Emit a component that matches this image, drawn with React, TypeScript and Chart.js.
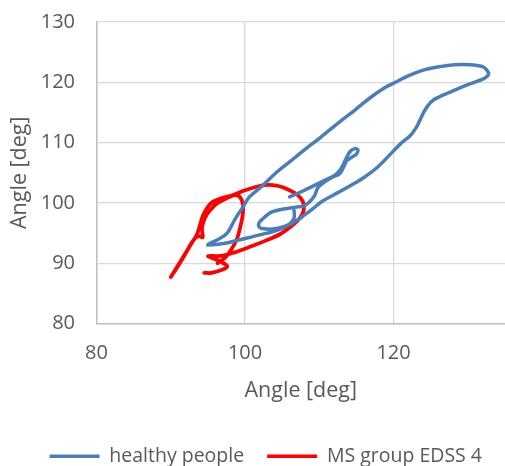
import { useEffect, useRef } from 'react';
import { Chart, registerables } from 'chart.js';

Chart.register(...registerables);

// Angle–angle cycle of healthy people (deg)
const healthyX = [
  106.0, 108.0, 110.3, 112.1, 112.7, 113.2, 113.7, 114.2, 114.8, 115.2, 115.0, 114.4, 113.7, 113.3, 112.7,
  111.8, 110.5, 109.8, 109.4, 108.7, 107.9,
  106.8, 105.2, 103.6, 102.5, 101.9, 101.9, 102.5, 104.0, 105.8, 107.1, 108.0,
  109.1, 110.3, 112.5, 114.4, 116.1, 117.9, 119.9, 121.1, 122.2, 123.0,
  123.5, 124.0, 124.6, 125.4, 126.7, 128.4, 130.0, 131.3, 132.3, 132.8,
  132.5, 132.0, 130.2, 128.2, 126.2, 124.2, 122.2, 120.4, 118.8, 116.8,
  114.8, 112.7, 110.1, 108.0, 106.0, 104.0, 102.3, 100.6, 99.7, 98.6,
  97.6, 96.3, 95.1, 95.0,
  97.3, 99.3, 102.0, 104.4, 106.0, 106.6, 106.6,
];
const healthyY = [
  101.0, 102.1, 103.5, 104.6, 105.3, 106.3, 107.6, 108.6, 109.0, 108.8, 108.1, 107.6, 107.0, 106.0, 104.8,
  104.3, 103.3, 102.5, 101.3, 100.2, 99.5,
  99.3, 99.0, 98.5, 97.5, 96.7, 96.0, 95.7, 95.7, 96.3, 97.2, 98.0,
  99.0, 100.2, 101.7, 103.0, 104.3, 106.0, 108.5, 110.0, 111.1, 112.4,
  113.6, 114.9, 116.1, 117.1, 117.9, 118.8, 119.6, 120.2, 120.7, 121.4,
  122.1, 122.6, 122.9, 122.9, 122.6, 122.1, 121.2, 120.1, 119.1, 117.4,
  115.4, 113.4, 110.8, 108.8, 106.8, 104.8, 102.8, 101.0, 99.3, 97.2,
  95.0, 93.9, 93.2, 93.0,
  93.3, 93.9, 94.7, 95.5, 96.5, 97.5, 98.8,
];

// Angle–angle cycle of the MS group, EDSS 4 (deg)
const msX = [
  94.5, 95.5, 96.9, 97.6, 96.5, 95.0, 96.7, 98.6, 100.6, 102.7,
  104.7, 106.3, 107.4, 107.9, 107.8, 107.1, 106.0, 104.5, 102.9, 101.3,
  99.8, 98.4, 96.9, 95.7, 94.9, 94.3, 93.9, 93.5, 92.8, 91.8,
  90.7, 90.0, 90.8, 92.0, 93.1, 93.8, 94.3, 94.2, 94.6, 95.3,
  96.3, 97.6, 98.6, 99.3, 99.7, 99.7, 99.4, 98.9, 98.1, 97.3,
  96.3,
];
const msY = [
  88.4, 88.4, 88.9, 89.5, 90.4, 91.2, 91.2, 91.8, 92.7, 93.7,
  94.8, 96.2, 97.5, 98.8, 100.2, 101.3, 102.1, 102.8, 103.0, 102.6,
  102.0, 101.3, 100.8, 100.2, 99.2, 97.8, 96.2, 94.7, 93.3, 91.2,
  89.0, 87.7, 89.3, 91.7, 93.9, 94.5, 94.3, 95.8, 97.5, 98.8,
  100.0, 100.8, 101.3, 101.0, 99.8, 98.2, 96.2, 94.0, 92.2, 90.9,
  90.0,
];

const xTicks = [80, 100, 120];
const yTicks = [80, 90, 100, 110, 120, 130];

const seriesNames = ['healthy people', 'MS group EDSS 4'];
const axisTitle = 'Angle [deg]';

const BLUE = '#4A7EBB';
const RED = '#FF0000';
const TEXT = '#595959';
const GRID = '#d9d9d9';
const AXIS = '#bfbfbf';
const FONT = "'Open Sans', 'DejaVu Sans', sans-serif";

const toPoints = (xs: number[], ys: number[]) => xs.map((x, i) => ({ x, y: ys[i] }));

export default function App() {
  const ref = useRef<HTMLCanvasElement>(null);

  useEffect(() => {
    const canvas = ref.current;
    if (!canvas) return;
    const font = { family: FONT, size: 20 };
    const legendFont = { family: FONT, size: 19.5 };
    const titleFont = { family: FONT, size: 21.5 };
    const line = {
      showLine: true,
      pointRadius: 0,
      pointHoverRadius: 0,
      tension: 0.35,
      borderCapStyle: 'round' as const,
      borderJoinStyle: 'round' as const,
    };

    const chart = new Chart(canvas, {
      type: 'scatter',
      data: {
        datasets: [
          {
            ...line,
            label: seriesNames[0],
            data: toPoints(healthyX, healthyY),
            borderColor: BLUE,
            backgroundColor: BLUE,
            borderWidth: 3.5,
          },
          {
            ...line,
            label: seriesNames[1],
            data: toPoints(msX, msY),
            borderColor: RED,
            backgroundColor: RED,
            borderWidth: 3.75,
          },
        ],
      },
      options: {
        animation: false,
        responsive: false,
        maintainAspectRatio: false,
        events: [],
        layout: { padding: { top: 22, right: 0, bottom: 4, left: 0 } },
        plugins: {
          tooltip: { enabled: false },
          legend: {
            position: 'bottom',
            align: 'end',
            labels: {
              boxWidth: 50,
              boxHeight: 3.5,
              padding: 23,
              color: TEXT,
              font: legendFont,
              generateLabels: (c: any) =>
                Chart.defaults.plugins.legend.labels
                  .generateLabels(c)
                  .map((item: any) => ({ ...item, lineWidth: 0, fillStyle: item.strokeStyle })),
            },
          },
        },
        scales: {
          x: {
            type: 'linear',
            min: 80,
            max: 135,
            afterBuildTicks: (s: any) => {
              s.ticks = xTicks.map((value) => ({ value }));
            },
            afterFit: (s: any) => {
              s.height = 100;
            },
            grid: { color: GRID, lineWidth: 1.3, drawTicks: false },
            border: { color: AXIS, width: 1.5 },
            ticks: { padding: 18, color: TEXT, font },
            title: {
              display: true,
              text: axisTitle,
              color: TEXT,
              font: titleFont,
              padding: { top: 0, bottom: 20 },
            },
          },
          y: {
            type: 'linear',
            min: 80,
            max: 130,
            afterBuildTicks: (s: any) => {
              s.ticks = yTicks.map((value) => ({ value }));
            },
            afterFit: (s: any) => {
              s.width = 96.5;
              s.paddingTop = 12;
              s.paddingBottom = 12;
            },
            grid: { color: GRID, lineWidth: 1.3, drawTicks: false },
            border: { color: AXIS, width: 1.5 },
            ticks: { padding: 21.5, color: TEXT, font },
            title: {
              display: true,
              text: axisTitle,
              color: TEXT,
              font: titleFont,
              padding: { top: 7, bottom: 0 },
            },
          },
        },
      },
    } as any);

    return () => chart.destroy();
  }, []);

  return (
    <div
      style={{
        position: 'fixed',
        left: 0,
        top: 0,
        width: 505,
        height: 466,
        overflow: 'hidden',
        background: '#fff',
      }}
    >
      <canvas ref={ref} width={505} height={480} style={{ display: 'block' }} />
    </div>
  );
}
